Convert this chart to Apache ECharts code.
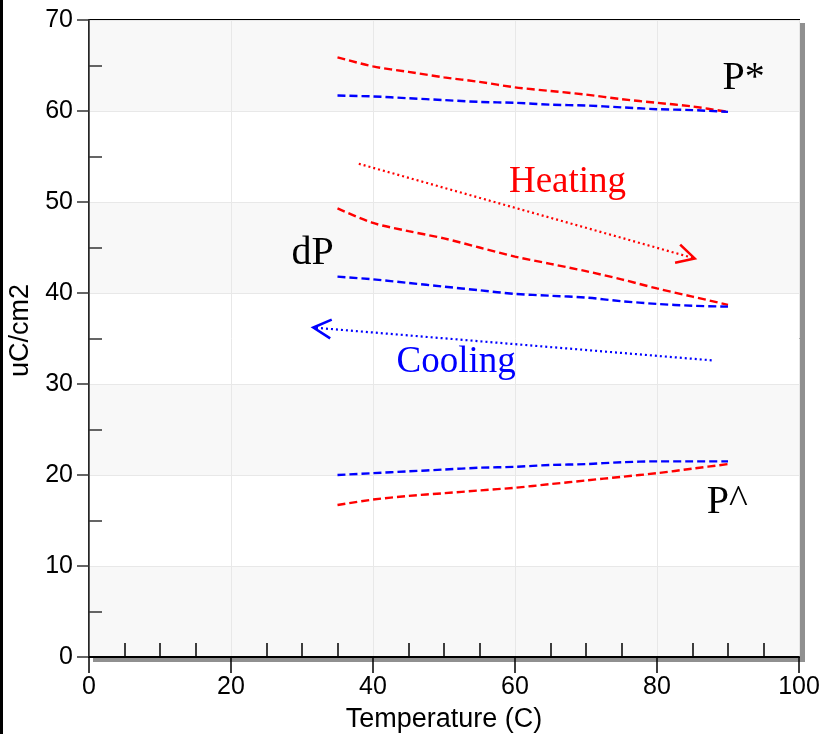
<!DOCTYPE html>
<html>
<head>
<meta charset="utf-8">
<script src="https://cdn.jsdelivr.net/npm/echarts@6/dist/echarts.min.js"></script>
<style>
  html, body { margin: 0; padding: 0; background: #fff; }
  #chart { width: 823px; height: 734px; }
</style>
</head>
<body>
<div id="chart"></div>
<script>
// Polarization vs. temperature, heating (red) and cooling (blue) runs
const temps = [35, 40, 45, 50, 55, 60, 65, 70, 75, 80, 85, 90];
const pStarHeating = [65.9, 64.9, 64.3, 63.7, 63.2, 62.6, 62.2, 61.8, 61.3, 60.9, 60.5, 59.9];
const pStarCooling = [61.7, 61.6, 61.4, 61.2, 61.0, 60.9, 60.7, 60.6, 60.4, 60.2, 60.1, 59.9];
const dPHeating = [49.3, 47.7, 46.8, 46.0, 45.0, 44.0, 43.2, 42.4, 41.5, 40.5, 39.6, 38.7];
const dPCooling = [41.8, 41.5, 41.1, 40.7, 40.3, 39.9, 39.7, 39.5, 39.1, 38.8, 38.6, 38.5];
const pHatHeating = [16.7, 17.3, 17.7, 18.0, 18.3, 18.6, 19.0, 19.4, 19.8, 20.2, 20.7, 21.2];
const pHatCooling = [20.0, 20.2, 20.4, 20.6, 20.8, 20.9, 21.1, 21.2, 21.4, 21.5, 21.5, 21.5];

// Direction arrows: [start, end] in temperature / uC/cm2
const heatingArrowX = [38.0, 85.3];
const heatingArrowY = [54.2, 43.8];
const coolingArrowX = [87.7, 31.6];
const coolingArrowY = [32.6, 36.2];

// Annotation texts and their anchor values
const noteTexts = ['P*', 'Heating', 'dP', 'Cooling', 'P^'];
const noteX = [92.2, 67.4, 31.5, 51.7, 89.9];
const noteY = [63.6, 52.2, 44.3, 32.4, 17.0];

const xTicks = [0, 20, 40, 60, 80, 100];
const yTicks = [0, 10, 20, 30, 40, 50, 60, 70];

const RED = '#ff0000';
const BLUE = '#0000ff';
const noteColors = ['#000', RED, '#000', BLUE, '#000'];
const noteSizes = [40, 37, 40, 37, 40];

function pairs(xs, ys) {
  return xs.map((x, i) => [x, ys[i]]);
}

function curve(name, values, color) {
  return {
    name: name,
    type: 'line',
    data: pairs(temps, values),
    smooth: 0.3,
    showSymbol: false,
    symbol: 'none',
    lineStyle: { color: color, width: 2.4, type: [8, 4] },
    z: 3
  };
}

function arrowItem(params, api) {
  const p0 = api.coord([api.value(0), api.value(1)]);
  const p1 = api.coord([api.value(2), api.value(3)]);
  const color = api.visual('color');
  let dx = p0[0] - p1[0], dy = p0[1] - p1[1];
  const len = Math.hypot(dx, dy);
  dx /= len; dy /= len;
  const a = 28 * Math.PI / 180, L = 20;
  const rot = (s) => [
    p1[0] + L * (dx * Math.cos(s * a) - dy * Math.sin(s * a)),
    p1[1] + L * (dx * Math.sin(s * a) + dy * Math.cos(s * a))
  ];
  return {
    type: 'group',
    children: [
      {
        type: 'polyline',
        shape: { points: [p0, p1] },
        style: { stroke: color, lineWidth: 2.2, lineDash: [2, 3], fill: null }
      },
      {
        type: 'polyline',
        shape: { points: [rot(1), p1, rot(-1)] },
        style: { stroke: color, lineWidth: 2.6, fill: null }
      }
    ]
  };
}

const chart = echarts.init(document.getElementById('chart'), null, { renderer: 'canvas' });

const option = {
  animation: false,
  backgroundColor: '#fff',
  grid: {
    left: 89, right: 24, top: 20, bottom: 77,
    outerBoundsMode: 'none',
    containLabel: false,
    show: true,
    backgroundColor: '#fff',
    borderColor: '#000',
    borderWidth: 2,
    shadowColor: '#909090',
    shadowBlur: 0,
    shadowOffsetX: 5,
    shadowOffsetY: 4
  },
  xAxis: {
    type: 'value',
    min: xTicks[0], max: xTicks[xTicks.length - 1], interval: 20,
    name: 'Temperature (C)',
    nameLocation: 'middle',
    nameGap: 49,
    nameTextStyle: { fontFamily: 'Liberation Sans', fontSize: 27, color: '#000' },
    axisLine: { onZero: false, lineStyle: { color: '#000', width: 2 } },
    axisTick: { show: true, length: 16, lineStyle: { color: '#000', width: 1.5 } },
    minorTick: { show: true, splitNumber: 4, length: -14, lineStyle: { color: '#000', width: 1.5 } },
    axisLabel: { fontFamily: 'Liberation Sans', fontSize: 25, color: '#000', margin: 18 },
    splitLine: { show: true, lineStyle: { color: '#e8e8e8', width: 1 } }
  },
  yAxis: {
    type: 'value',
    min: yTicks[0], max: yTicks[yTicks.length - 1], interval: 10,
    name: 'uC/cm2',
    nameLocation: 'middle',
    nameGap: 53,
    nameTextStyle: { fontFamily: 'Liberation Sans', fontSize: 27, color: '#000', padding: [0, 0, 0, 16] },
    axisLine: { onZero: false, lineStyle: { color: '#333', width: 1.5 } },
    axisTick: { show: true, length: 12, lineStyle: { color: '#333', width: 1.5 } },
    minorTick: { show: true, splitNumber: 2, length: -13, lineStyle: { color: '#333', width: 1.5 } },
    axisLabel: { fontFamily: 'Liberation Sans', fontSize: 25, color: '#000', margin: 16 },
    splitLine: { show: true, lineStyle: { color: '#e8e8e8', width: 1 } },
    splitArea: { show: true, areaStyle: { color: ['#f8f8f8', '#ffffff'] } }
  },
  series: [
    curve('P* heating', pStarHeating, RED),
    curve('P* cooling', pStarCooling, BLUE),
    curve('dP heating', dPHeating, RED),
    curve('dP cooling', dPCooling, BLUE),
    curve('P^ heating', pHatHeating, RED),
    curve('P^ cooling', pHatCooling, BLUE),
    {
      name: 'heating arrow',
      type: 'custom',
      renderItem: arrowItem,
      itemStyle: { color: RED },
      encode: { x: [0, 2], y: [1, 3] },
      data: [[heatingArrowX[0], heatingArrowY[0], heatingArrowX[1], heatingArrowY[1]]],
      z: 4
    },
    {
      name: 'cooling arrow',
      type: 'custom',
      renderItem: arrowItem,
      itemStyle: { color: BLUE },
      encode: { x: [0, 2], y: [1, 3] },
      data: [[coolingArrowX[0], coolingArrowY[0], coolingArrowX[1], coolingArrowY[1]]],
      z: 4
    },
    {
      name: 'notes',
      type: 'scatter',
      symbolSize: 0,
      silent: true,
      z: 5,
      itemStyle: { opacity: 1 },
      data: noteTexts.map((t, i) => ({
        value: [noteX[i], noteY[i]],
        label: {
          show: true,
          position: 'inside',
          formatter: t,
          fontFamily: 'Liberation Serif',
          fontSize: noteSizes[i],
          color: noteColors[i],
          textBorderWidth: 0,
          opacity: 1
        }
      }))
    }
  ],
  graphic: [
    {
      type: 'rect',
      left: 0, top: 0,
      shape: { x: 0, y: 0, width: 3, height: 734 },
      style: { fill: '#000' },
      silent: true
    }
  ]
};

chart.setOption(option);
</script>
</body>
</html>
